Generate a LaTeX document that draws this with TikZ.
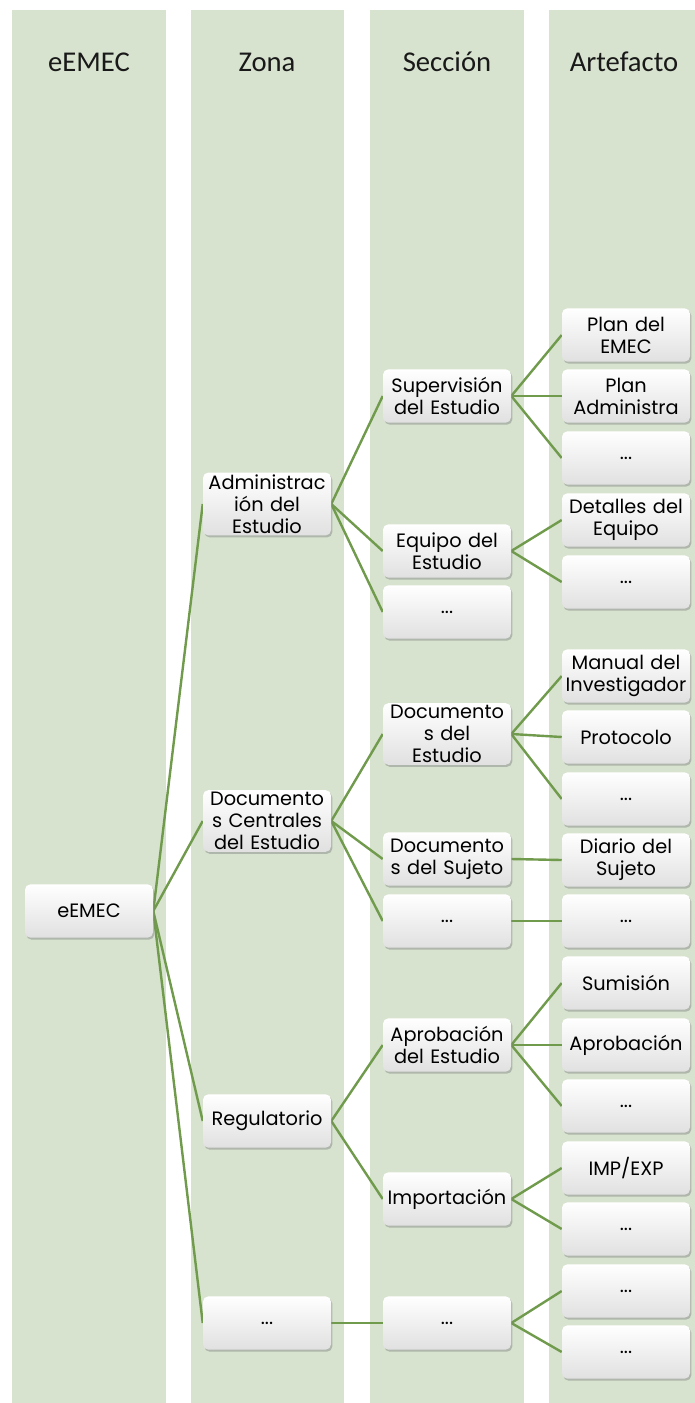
\documentclass[tikz,border=0pt]{standalone}
\usepackage{fontspec}
\setmainfont{Poppins}
\newfontfamily\headfont{Carlito}
\usetikzlibrary{backgrounds,shadows}
\definecolor{BandGreen}{HTML}{D7E3CF}
\definecolor{LinkGreen}{HTML}{709A4C}

\begin{document}
\begin{tikzpicture}[
  x=0.75pt, y=-0.75pt,
  font=\fontsize{14.5}{16.5}\selectfont,
  band/.style={fill=BandGreen,draw=none},
  head/.style={font=\headfont\fontsize{21.5}{24}\selectfont,text=black!90},
  box/.style={draw=none,rounded corners=4pt,top color=white,bottom color=black!12,
              drop shadow={opacity=0.45,shadow xshift=1pt,shadow yshift=-1.5pt},
              text width=93pt,minimum height=40pt,align=center,inner sep=1.5pt},
  e/.style={line width=1.8pt,LinkGreen},
]
\useasboundingbox (0,0) rectangle (695,1403);

% level nodes, one column per band
\node[box] (root) at (89,911) {eEMEC};

\node[box] (adm) at (267,504)  {Administrac\\ión del\\Estudio};
\node[box] (dcs) at (267,821)  {Documento\\s Centrales\\del Estudio};
\node[box] (reg) at (267,1121) {Regulatorio};
\node[box] (zd)  at (267,1323) {...};

\node[box] (sup) at (447,396)  {Supervisión\\del Estudio};
\node[box] (equ) at (447,551)  {Equipo del\\Estudio};
\node[box] (sd1) at (447,612)  {...};
\node[box] (doe) at (447,734)  {Documento\\s del\\Estudio};
\node[box] (dsu) at (447,859)  {Documento\\s del Sujeto};
\node[box] (sd2) at (447,921)  {...};
\node[box] (apr) at (447,1045) {Aprobación\\del Estudio};
\node[box] (imp) at (447,1199) {Importación};
\node[box] (sd3) at (447,1323) {...};

\node[box] (pla) at (626,335)  {Plan del\\EMEC};
\node[box] (pad) at (626,396)  {Plan\\Administra};
\node[box] (ad1) at (626,458)  {...};
\node[box] (det) at (626,520)  {Detalles del\\Equipo};
\node[box] (ad2) at (626,582)  {...};
\node[box] (man) at (626,676)  {Manual del\\Investigador};
\node[box] (pro) at (626,737)  {Protocolo};
\node[box] (ad3) at (626,799)  {...};
\node[box] (dia) at (626,860)  {Diario del\\Sujeto};
\node[box] (ad4) at (626,921)  {...};
\node[box] (sum) at (626,983)  {Sumisión};
\node[box] (apb) at (626,1045) {Aprobación};
\node[box] (ad5) at (626,1106) {...};
\node[box] (iex) at (626,1168) {IMP/EXP};
\node[box] (ad6) at (626,1229) {...};
\node[box] (ad7) at (626,1291) {...};
\node[box] (ad8) at (626,1352) {...};

\begin{scope}[on background layer]
  % column bands and their titles
  \fill[band] (12,10)  rectangle (166,1403);
  \fill[band] (191,10) rectangle (344,1403);
  \fill[band] (370,10) rectangle (524,1403);
  \fill[band] (549,10) rectangle (695,1403);

  % tree links, parent east to child west
  \foreach \p/\c in {root/adm,root/dcs,root/reg,root/zd,
                     adm/sup,adm/equ,adm/sd1,dcs/doe,dcs/dsu,dcs/sd2,
                     reg/apr,reg/imp,zd/sd3,
                     sup/pla,sup/pad,sup/ad1,equ/det,equ/ad2,
                     doe/man,doe/pro,doe/ad3,dsu/dia,sd2/ad4,
                     apr/sum,apr/apb,apr/ad5,imp/iex,imp/ad6,sd3/ad7,sd3/ad8}
    \draw[e] (\p.east) -- (\c.west);
\end{scope}

\node[head] (h1) at (89,62)  {eEMEC};
\node[head] (h2) at (267,62) {Zona};
\node[head] (h3) at (447,62) {Sección};
\node[head] (h4) at (624,62) {Artefacto};
\end{tikzpicture}
\end{document}
